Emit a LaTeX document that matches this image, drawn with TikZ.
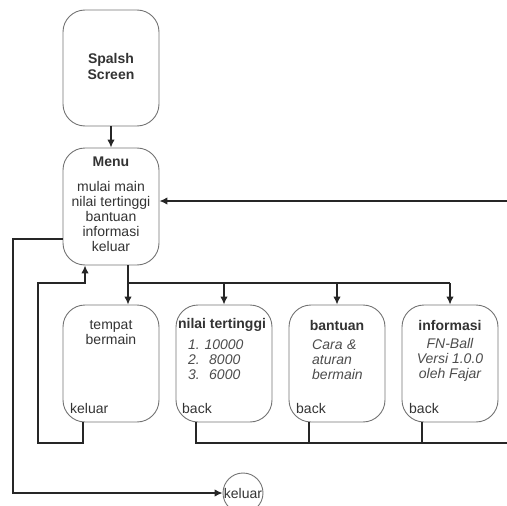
\documentclass[tikz,border=0pt]{standalone}
\usepackage{fontspec}
\setmainfont{Liberation Sans}
\usetikzlibrary{arrows,arrows.meta,positioning}

\tikzset{
  layar/.style={draw=black!55, line width=0.9pt, rounded corners=22pt,
    minimum width=96pt, minimum height=117pt, inner sep=0pt},
  alur/.style={draw=black!85, line width=1.3pt},
  panah/.style={alur, -{Latex[length=8pt,width=7.5pt]}},
  teks/.style={text=black!80, inner sep=0pt, align=center,
    font=\fontsize{14}{15}\selectfont},
  judul/.style={teks, font=\bfseries\fontsize{14}{16}\selectfont},
  isi/.style={teks, text=black!70, font=\itshape\fontsize{14}{15}\selectfont},
  daftar/.style={isi, text width=60pt, align=left, anchor=west},
}

\begin{document}
\begin{tikzpicture}[x=1pt,y=-1pt]
\useasboundingbox (0,0) rectangle (507,506);
\clip (0,0) rectangle (507,506);

% kotak layar
\node[layar, minimum height=116pt] (splash) at (111,68) {};
\node[layar] (menu) at (111,206.5) {};
\node[layar] (tempat) at (111,363.5) {};
\node[layar] (nilai) at (224,363.5) {};
\node[layar] (bantuan) at (337,363.5) {};
\node[layar] (info) at (450,363.5) {};
\node[teks, draw=black!55, line width=0.9pt, circle, minimum size=40pt] (keluar) at (243,493) {keluar};

% tulisan
\node[judul] (tsplash) at (111,66) {Spalsh\\Screen};
\node[judul] (tmenu) at (111,162) {Menu};
\node[teks] (tpilih) at (111,216) {mulai main\\nilai tertinggi\\bantuan\\informasi\\keluar};
\node[teks] (ttempat) at (111,333) {tempat\\bermain};
\node[teks, anchor=west] (tkeluar) at (70,408) {keluar};
\node[judul] (tnilai) at (222,325) {nilai tertinggi};
\node[daftar] (tskor) at (188,360) {1.\ 10000\\2.\ \ 8000\\3.\ \ 6000};
\node[teks, anchor=west] (tback1) at (182,408) {back};
\node[judul] (tbantuan) at (337,325) {bantuan};
\node[daftar] (tcara) at (312,360) {Cara \&\\aturan\\bermain};
\node[teks, anchor=west] (tback2) at (296,408) {back};
\node[judul] (tinfo) at (450,325) {informasi};
\node[isi] (tversi) at (450,360) {FN-Ball\\Versi 1.0.0\\oleh Fajar};
\node[teks, anchor=west] (tback3) at (409,408) {back};

% alur
\coordinate (masuk) at (507,201);
\coordinate (cabang) at (128,283);
\coordinate (balik) at (38,283);
\coordinate (naik) at (85,283);
\coordinate (k1) at (83,443);
\coordinate (bawah) at (507,443);
\coordinate (kiri) at (13,239);

\draw[panah] (splash) -- (menu);
\draw[panah] (masuk) -- (masuk -| menu.east);
\draw[alur] (menu.south -| cabang) -- (cabang) -- (cabang -| info);
\draw[panah] (cabang) -- (cabang |- tempat.north);
\foreach \b in {nilai,bantuan,info}
  \draw[panah] (cabang -| \b.north) -- (\b.north);
\draw[panah] (tempat.south -| k1) -- (k1) -| (balik) -- (naik) -- (naik |- menu.south);
\draw[alur] ([xshift=-28pt]nilai.south) |- (bawah);
\foreach \b in {bantuan,info}
  \draw[alur] ([xshift=-28pt]\b.south) -- ([xshift=-28pt]\b.south |- bawah);
\draw[panah] (kiri -| menu.west) -- (kiri) |- (keluar);
\end{tikzpicture}
\end{document}
